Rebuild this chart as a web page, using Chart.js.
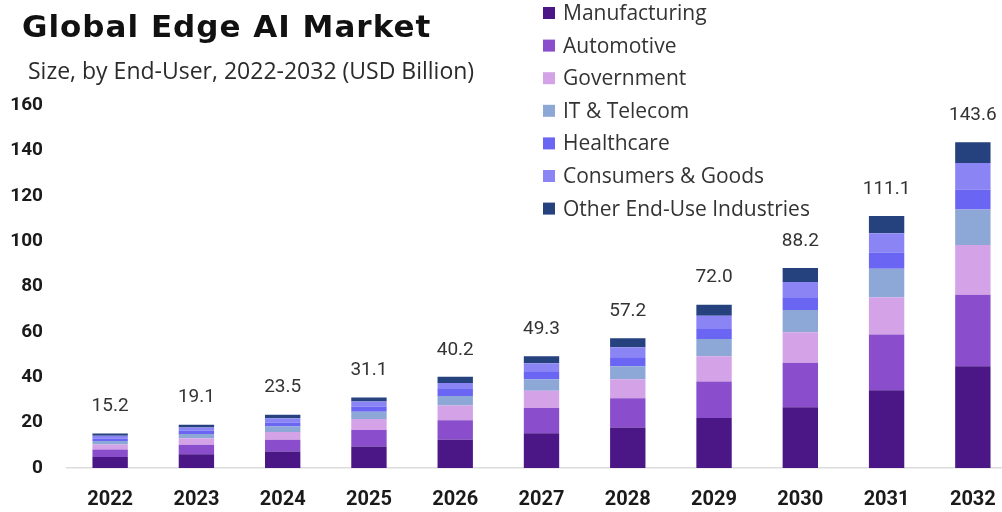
<!DOCTYPE html>
<html>
<head>
<meta charset="utf-8">
<title>Global Edge AI Market</title>
<script src="https://cdn.jsdelivr.net/npm/chart.js@4.4.1/dist/chart.umd.min.js"></script>
<style>
  html, body { margin: 0; padding: 0; background: #fff; overflow: hidden; }
  #wrap { position: relative; width: 1016px; height: 512px; }
</style>
</head>
<body>
<div id="wrap"><canvas id="edgeChart"></canvas></div>
<script>
var years = ["2022", "2023", "2024", "2025", "2026", "2027", "2028", "2029", "2030", "2031", "2032"];
var yTicks = [0, 20, 40, 60, 80, 100, 120, 140, 160];

// USD billion per end-user segment
var manufacturing = [4.9, 6.1, 7.3, 9.5, 12.5, 15.3, 17.8, 22.0, 26.8, 34.3, 44.8];
var automotive    = [3.3, 4.2, 5.2, 7.2, 8.5, 11.2, 12.9, 16.1, 19.6, 24.5, 31.6];
var government    = [2.2, 2.8, 3.4, 4.9, 6.6, 7.6, 8.4, 11.2, 13.4, 16.5, 21.9];
var itTelecom     = [1.5, 1.9, 2.4, 3.2, 4.1, 5.0, 5.7, 7.6, 9.8, 12.5, 15.6];
var healthcare    = [1.1, 1.4, 1.7, 2.2, 3.1, 3.5, 4.0, 4.4, 5.3, 7.2, 8.9];
var consumers     = [1.2, 1.5, 1.9, 2.3, 2.7, 3.6, 4.4, 5.8, 7.1, 8.5, 11.6];
var otherEndUse   = [1.0, 1.2, 1.6, 1.8, 2.7, 3.1, 4.0, 4.9, 6.2, 7.6, 9.2];

var segments = [
  { label: "Manufacturing", data: manufacturing, color: "#4b1685" },
  { label: "Automotive", data: automotive, color: "#8a4dcc" },
  { label: "Government", data: government, color: "#d4a3e7" },
  { label: "IT & Telecom", data: itTelecom, color: "#8da7d7" },
  { label: "Healthcare", data: healthcare, color: "#6b65f3" },
  { label: "Consumers & Goods", data: consumers, color: "#8a84f5" },
  { label: "Other End-Use Industries", data: otherEndUse, color: "#25417e" }
];

var datasets = [];
for (var i = 0; i < segments.length; i++) {
  datasets.push({
    label: segments[i].label,
    data: segments[i].data,
    backgroundColor: segments[i].color,
    borderWidth: 0,
    stack: "market"
  });
}

// title, subtitle and the vertical legend in the top right
var headerPlugin = {
  id: "header",
  afterDraw: function (chart) {
    var ctx = chart.ctx;
    ctx.save();
    ctx.fillStyle = "#111";
    ctx.textAlign = "left";
    ctx.textBaseline = "alphabetic";
    ctx.font = "bold 31px 'DejaVu Sans'";
    ctx.letterSpacing = "1px";
    ctx.fillText("Global Edge AI Market", 22, 37);
    ctx.letterSpacing = "0px";
    ctx.fillStyle = "#2b2b2b";
    ctx.font = "400 23px 'Open Sans'";
    ctx.fillText("Size, by End-User, 2022-2032 (USD Billion)", 28, 79);

    var ds = chart.data.datasets;
    ctx.font = "400 21px 'Open Sans'";
    ctx.textBaseline = "middle";
    for (var k = 0; k < ds.length; k++) {
      var y = 13 + k * 32.6;
      ctx.fillStyle = ds[k].backgroundColor;
      ctx.fillRect(543, y - 6, 12, 12);
      ctx.fillStyle = "#333";
      ctx.fillText(ds[k].label, 563, y + 1);
    }
    ctx.restore();
  }
};

// totals above each stacked bar
var totalsPlugin = {
  id: "totals",
  afterDatasetsDraw: function (chart) {
    var ctx = chart.ctx;
    var ds = chart.data.datasets;
    var topMeta = chart.getDatasetMeta(ds.length - 1);
    ctx.save();
    ctx.fillStyle = "#333";
    ctx.font = "400 19px Roboto";
    ctx.textAlign = "center";
    ctx.textBaseline = "middle";
    for (var j = 0; j < years.length; j++) {
      var sum = 0;
      for (var k = 0; k < ds.length; k++) sum += ds[k].data[j];
      var bar = topMeta.data[j];
      ctx.fillText(sum.toFixed(1), bar.x, bar.y - 27);
    }
    ctx.restore();
  }
};

var ctx = document.getElementById("edgeChart").getContext("2d");
var myChart = new Chart(ctx, {
  type: "bar",
  data: {
    labels: years,
    datasets: datasets
  },
  options: {
    responsive: true,
    maintainAspectRatio: false,
    animation: false,
    layout: {
      padding: { top: 105, bottom: 2, left: 0, right: 0 }
    },
    plugins: {
      legend: { display: false },
      title: { display: false },
      tooltip: { enabled: false }
    },
    datasets: {
      bar: { categoryPercentage: 1, barPercentage: 0.41 }
    },
    scales: {
      x: {
        stacked: true,
        afterFit: function (scale) { scale.height = 42; },
        grid: { display: false, drawTicks: false },
        border: { display: true, color: "#dcdcdc", width: 1.5 },
        ticks: {
          color: "#1a1a1a",
          padding: 20,
          font: { family: "Roboto", size: 20, weight: "bold" }
        }
      },
      y: {
        stacked: true,
        min: yTicks[0],
        max: yTicks[yTicks.length - 1],
        afterFit: function (scale) { scale.width = 67; },
        afterBuildTicks: function (scale) {
          scale.ticks = yTicks.map(function (v) { return { value: v }; });
        },
        grid: { display: false, drawTicks: false },
        border: { display: false },
        ticks: {
          color: "#1a1a1a",
          padding: 24,
          font: { family: "Roboto", size: 19, weight: "bold" }
        }
      }
    }
  },
  plugins: [headerPlugin, totalsPlugin]
});
</script>
</body>
</html>
